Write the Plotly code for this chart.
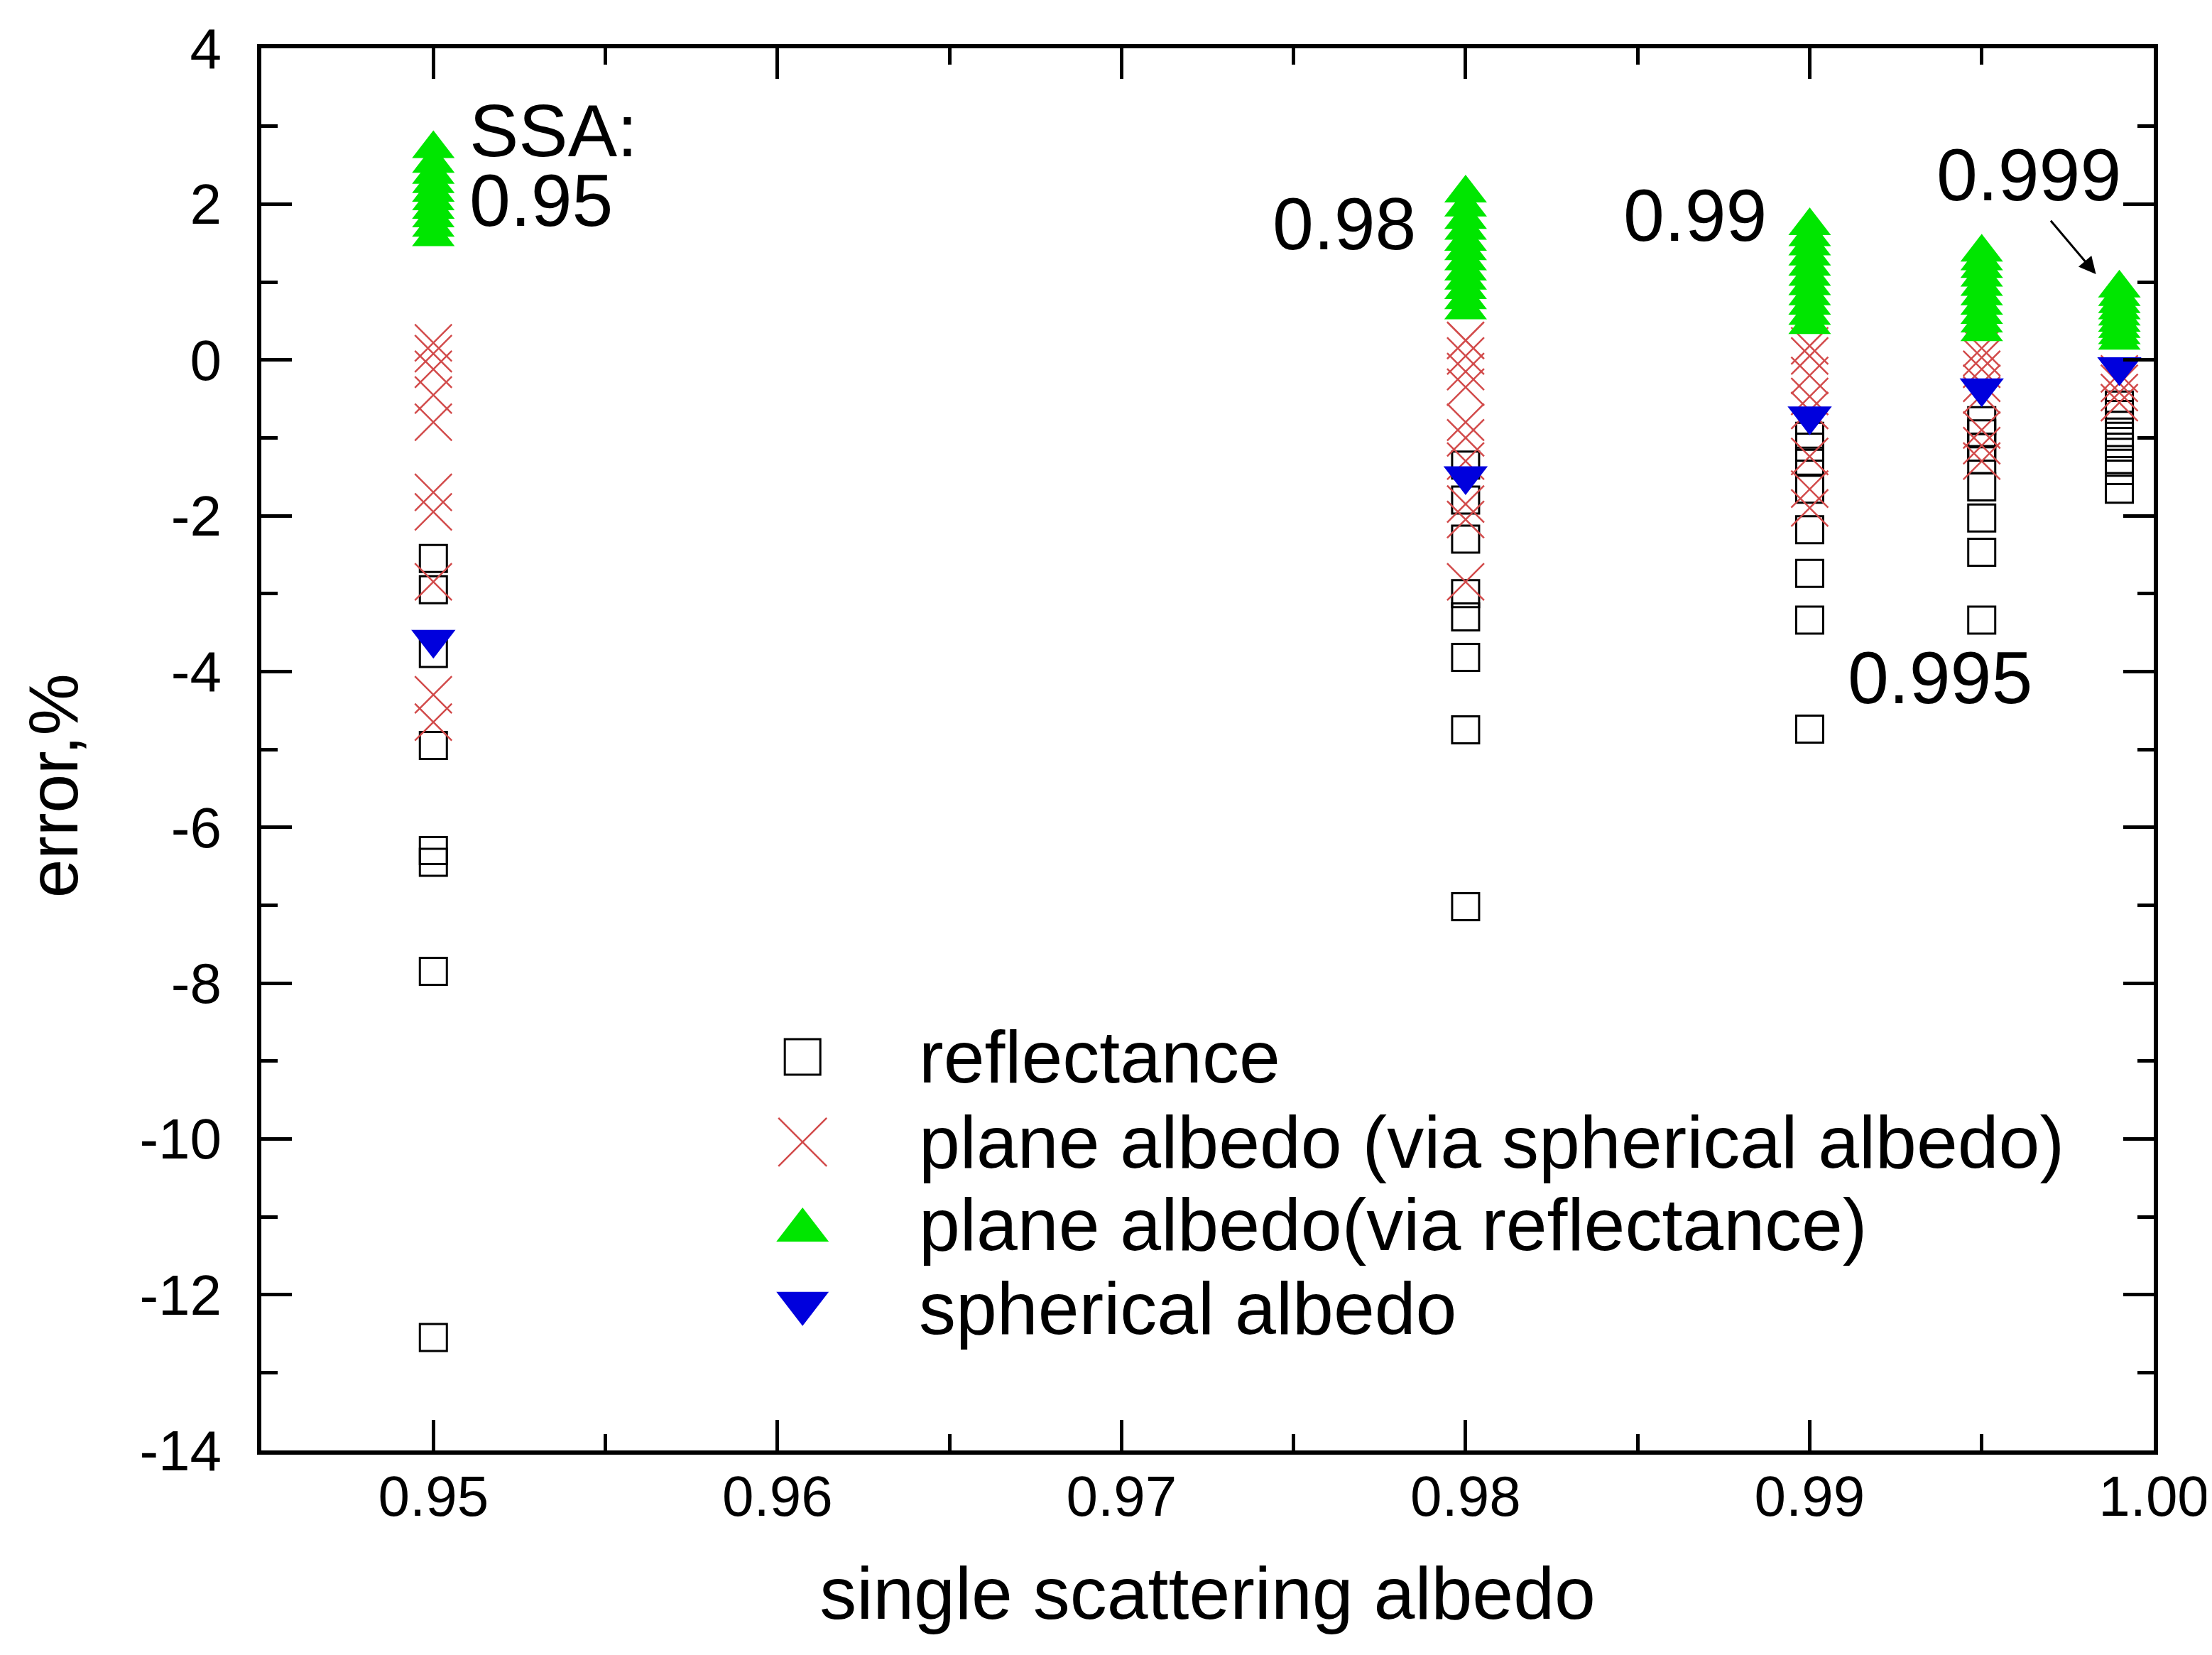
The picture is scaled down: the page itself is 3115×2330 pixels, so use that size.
import plotly.graph_objects as go

# single scattering albedo values (one column of points each)
ssa = [0.95, 0.98, 0.99, 0.995, 0.999]

# error, %, one list per SSA value
reflectance = [
    [-2.55, -2.95, -3.77, -4.95, -6.3, -6.45, -7.85, -12.55],
    [-1.35, -1.8, -2.3, -3.0, -3.3, -3.82, -4.75, -7.02],
    [-0.98, -1.12, -1.3, -1.66, -2.18, -2.74, -3.34, -4.74],
    [-0.78, -0.95, -1.12, -1.28, -1.63, -2.03, -2.47, -3.34],
    [-0.58, -0.7, -0.84, -0.98, -1.12, -1.28, -1.42, -1.66],
]
plane_via_spherical = [
    [0.22, 0.08, -0.12, -0.45, -0.8, -1.7, -1.95, -2.85, -4.3, -4.65],
    [0.25, 0.05, -0.15, -0.35, -0.8, -1.0, -1.3, -1.85, -2.05, -2.85],
    [0.18, 0.05, -0.2, -0.47, -0.65, -1.24, -1.66, -1.9],
    [0.15, 0.03, -0.12, -0.3, -0.45, -0.9, -1.1, -1.3],
    [-0.18, -0.3, -0.42, -0.55],
]
plane_via_reflectance = [
    [1.58, 1.7, 1.82, 1.93, 2.04, 2.15, 2.26, 2.38, 2.52, 2.71],
    [0.64, 0.77, 0.9, 1.02, 1.14, 1.27, 1.4, 1.52, 1.66, 1.8, 1.96, 2.14],
    [0.45, 0.57, 0.7, 0.82, 0.95, 1.07, 1.2, 1.33, 1.46, 1.58, 1.72],
    [0.36, 0.47, 0.58, 0.7, 0.82, 0.94, 1.06, 1.17, 1.27, 1.38],
    [0.25, 0.32, 0.4, 0.48, 0.56, 0.64, 0.72, 0.81, 0.92],
]
spherical = [[-3.59], [-1.49], [-0.72], [-0.36], [-0.09]]

series_names = ["reflectance", "plane albedo (via spherical albedo)",
                "plane albedo(via reflectance)", "spherical albedo"]

xtick_vals = [0.95, 0.96, 0.97, 0.98, 0.99, 1.00]
xtick_text = ["0.95", "0.96", "0.97", "0.98", "0.99", "1.00"]
ytick_vals = [-14, -12, -10, -8, -6, -4, -2, 0, 2, 4]
ytick_text = ["-14", "-12", "-10", "-8", "-6", "-4", "-2", "0", "2", "4"]

FONT = "Liberation Sans, Arial, sans-serif"
GREEN = "#00e600"
BLUE = "#0000dd"
RED = "#d24b4b"


def flatten(groups):
    xs, ys = [], []
    for s, vals in zip(ssa, groups):
        xs += [s] * len(vals)
        ys += vals
    return xs, ys


styles = [
    dict(symbol="square-open", size=38, color="black", line=dict(color="black", width=3)),
    dict(symbol="x-thin", size=52, color=RED, line=dict(color=RED, width=2.5)),
    dict(symbol="triangle-up", size=52, color=GREEN, line=dict(width=0)),
    dict(symbol="triangle-down", size=54, color=BLUE, line=dict(width=0)),
]
legend_styles = [
    dict(symbol="square-open", size=50, color="black", line=dict(color="black", width=3)),
    dict(symbol="x-thin", size=68, color=RED, line=dict(color=RED, width=2.5)),
    dict(symbol="triangle-up", size=64, color=GREEN, line=dict(width=0)),
    dict(symbol="triangle-down", size=64, color=BLUE, line=dict(width=0)),
]

fig = go.Figure()
for name, groups, st in zip(series_names,
                            [reflectance, plane_via_spherical, plane_via_reflectance, spherical],
                            styles):
    xs, ys = flatten(groups)
    fig.add_trace(go.Scatter(x=xs, y=ys, mode="markers", name=name, marker=st))

# hand-made legend (plotly caps legend symbols at 16px)
legend_x = 0.286
legend_rows = [0.2806, 0.2199, 0.157, 0.105]
for name, row, st in zip(series_names, legend_rows, legend_styles):
    fig.add_trace(go.Scatter(x=[legend_x], y=[row], mode="markers", marker=st,
                             xaxis="x2", yaxis="y2", hoverinfo="skip", name=name))
text_rows = [0.2806, 0.2199, 0.1611, 0.1013]
for name, row in zip(series_names, text_rows):
    fig.add_annotation(x=0.3468, y=row, xref="paper", yref="paper", text=name,
                       showarrow=False, xanchor="left", yanchor="middle",
                       font=dict(size=104, color="black", family=FONT))

# SSA labels
labels = [
    dict(text="SSA:", x=0.9510, y=2.94, xanchor="left"),
    dict(text="0.95", x=0.9510, y=2.05, xanchor="left"),
    dict(text="0.98", x=0.9786, y=1.75, xanchor="right"),
    dict(text="0.99", x=0.9888, y=1.86, xanchor="right"),
    dict(text="0.999", x=0.99637, y=2.38, xanchor="center"),
    dict(text="0.995", x=0.99378, y=-4.08, xanchor="center"),
]
for lab in labels:
    fig.add_annotation(x=lab["x"], y=lab["y"], text=lab["text"], showarrow=False,
                       xanchor=lab["xanchor"], yanchor="middle",
                       font=dict(size=104, color="black", family=FONT))
fig.add_annotation(x=0.99832, y=1.1, ax=0.99698, ay=1.8, axref="x", ayref="y",
                   text="", showarrow=True, arrowhead=2, arrowsize=1.6,
                   arrowwidth=3, arrowcolor="black")

# y title placed by hand: it sits a bit below the middle of the axis
fig.add_annotation(x=-0.110, y=0.474, xref="paper", yref="paper", text="error,%",
                   textangle=-90, showarrow=False, xanchor="center", yanchor="middle",
                   font=dict(size=98, color="black", family=FONT))

axis_common = dict(
    showgrid=False, zeroline=False, showline=True, linecolor="black", linewidth=6,
    mirror="ticks", ticks="inside", ticklen=43, tickwidth=5, tickcolor="black",
    tickfont=dict(size=80, color="black", family=FONT),
)
fig.update_layout(
    width=3115, height=2330,
    margin=dict(l=360, r=85, t=60, b=296),
    paper_bgcolor="white", plot_bgcolor="white",
    showlegend=False,
    font=dict(family=FONT, color="black"),
    xaxis=dict(range=[0.945, 1.0], tickvals=xtick_vals, ticktext=xtick_text,
               minor=dict(ticks="inside", ticklen=23, tickwidth=5, dtick=0.005, tick0=0.945,
                          tickcolor="black"),
               ticklabelstandoff=-10,
               title=dict(text="single scattering albedo", standoff=58,
                          font=dict(size=104, family=FONT, color="black")),
               **axis_common),
    yaxis=dict(range=[-14, 4], tickvals=ytick_vals, ticktext=ytick_text,
               minor=dict(ticks="inside", ticklen=23, tickwidth=5, dtick=1, tick0=0,
                          tickcolor="black"),
               ticklabelstandoff=34,
               **axis_common),
    xaxis2=dict(overlaying="x", range=[0, 1], visible=False),
    yaxis2=dict(overlaying="y", range=[0, 1], visible=False),
)

fig.write_html("out.html")
